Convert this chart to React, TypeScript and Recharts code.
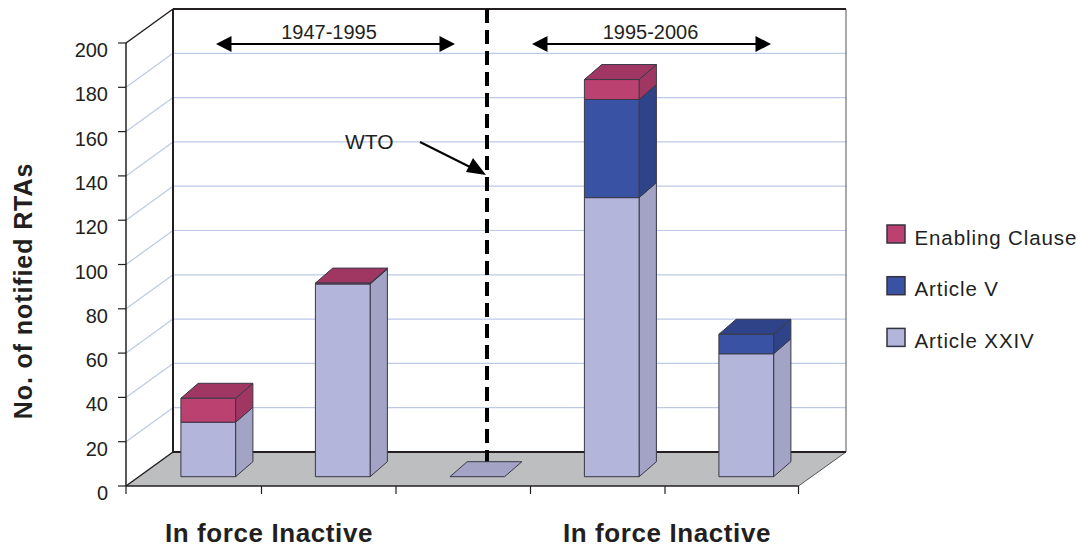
import { BarChart, Bar, XAxis, YAxis, Customized } from 'recharts';

const categories = ['1947-1995 In force', '1947-1995 Inactive', 'WTO', '1995-2006 In force', '1995-2006 Inactive'];
const articleXXIV = [24.6, 87, 0, 126, 55.5];
const articleV = [0, 0, 0, 44.3, 8.8];
const enablingClause = [10.8, 0.4, 0, 9, 0];
const yTicks = [0, 20, 40, 60, 80, 100, 120, 140, 160, 180, 200];
const seriesNames = ['Enabling Clause', 'Article V', 'Article XXIV'];
const groupLabels = ['In force Inactive', 'In force Inactive'];
const periodLabels = ['1947-1995', '1995-2006'];

const data = categories.map((name, i) => ({
  name,
  xxiv: articleXXIV[i],
  v: articleV[i],
  enabling: enablingClause[i],
}));

const colors: any = {
  xxiv: { front: '#b3b5da', side: '#a2a3c5' },
  v: { front: '#3952a3', side: '#2f4388' },
  enabling: { front: '#bb4170', side: '#a03763' },
};
const legendColors = [colors.enabling.front, colors.v.front, colors.xxiv.front];

const INK = '#231f20';
const LEFT = 126;
const RIGHT = 798.5;
const TOP = 43;
const BOTTOM = 486;
const WALL_DX = 47;
const WALL_DY = -34;
// bars stand part way into the floor
const BAR_DX = 14.9;
const BAR_DY = -9.3;
const DEPTH_X = 17.3;
const DEPTH_Y = -15;
const FONT = '"Liberation Sans", Arial, sans-serif';

const yPos = (v: number) => BOTTOM - (v / 200) * (BOTTOM - TOP);

function Box3D(props: any) {
  const { x, y, width, height, dataKey, payload } = props;
  const c = colors[dataKey];
  const order = ['enabling', 'v', 'xxiv'];
  const topKey = order.find((k) => payload[k] > 0) || 'xxiv';
  const isTop = topKey === dataKey;
  if (!isTop && !(height > 0)) return null;
  const l = x + BAR_DX;
  const r = l + width;
  const t = y + BAR_DY;
  const b = t + height;
  const line = { stroke: '#3a3846', strokeWidth: 1, strokeLinejoin: 'round' as const };
  return (
    <g>
      {height > 0 && (
        <polygon
          points={`${r},${t} ${r + DEPTH_X},${t + DEPTH_Y} ${r + DEPTH_X},${b + DEPTH_Y} ${r},${b}`}
          fill={c.side}
          {...line}
        />
      )}
      {isTop && (
        <polygon
          points={`${l},${t} ${l + DEPTH_X},${t + DEPTH_Y} ${r + DEPTH_X},${t + DEPTH_Y} ${r},${t}`}
          fill={c.side}
          {...line}
        />
      )}
      {height > 0 && <rect x={l} y={t} width={width} height={height} fill={c.front} {...line} />}
    </g>
  );
}

function YTick({ x, y, payload }: any) {
  return (
    <text x={x} y={y + 14} textAnchor="end" fontFamily={FONT} fontSize={20} fill={INK}>
      {payload.value}
    </text>
  );
}

function Walls() {
  const bx = LEFT + WALL_DX;
  const ex = RIGHT + WALL_DX + 0.5;
  const band = (RIGHT - LEFT) / categories.length;
  return (
    <g>
      <polygon
        points={`${LEFT},${BOTTOM} ${RIGHT},${BOTTOM} ${ex},${BOTTOM + WALL_DY} ${bx},${BOTTOM + WALL_DY}`}
        fill="#bcbec0"
      />
      {yTicks.slice(1).map((v) => (
        <g key={v} stroke="#bdc9e6" strokeWidth={1.2}>
          {v < 200 && <line x1={LEFT} y1={yPos(v)} x2={bx} y2={yPos(v) + WALL_DY} />}
          {v < 200 && <line x1={bx} y1={yPos(v) + WALL_DY} x2={ex} y2={yPos(v) + WALL_DY} />}
        </g>
      ))}
      <line x1={ex} y1={yPos(200) + WALL_DY} x2={ex} y2={BOTTOM + WALL_DY} stroke="#55555a" strokeWidth={1} />
      <line x1={ex} y1={BOTTOM + WALL_DY} x2={RIGHT} y2={BOTTOM} stroke="#55555a" strokeWidth={1} />
      <line x1={bx} y1={yPos(200) + WALL_DY} x2={ex} y2={yPos(200) + WALL_DY} stroke={INK} strokeWidth={2} />
      <line x1={bx} y1={BOTTOM + WALL_DY} x2={ex} y2={BOTTOM + WALL_DY} stroke={INK} strokeWidth={2} />
      <line x1={bx} y1={yPos(200) + WALL_DY} x2={bx} y2={BOTTOM + WALL_DY} stroke={INK} strokeWidth={2} />
      <line x1={LEFT} y1={yPos(200)} x2={bx} y2={yPos(200) + WALL_DY} stroke={INK} strokeWidth={1.5} />
      <line x1={LEFT} y1={BOTTOM} x2={bx} y2={BOTTOM + WALL_DY} stroke={INK} strokeWidth={1.5} />
      {categories.concat('').map((_, i) => (
        <line
          key={i}
          x1={LEFT + band * i + (i > 0 && i < 5 ? 1 : 0)}
          y1={BOTTOM}
          x2={LEFT + band * i + (i > 0 && i < 5 ? 1 : 0)}
          y2={BOTTOM + 8}
          stroke={INK}
          strokeWidth={1.2}
        />
      ))}
    </g>
  );
}

function Arrow({ x1, x2 }: { x1: number; x2: number }) {
  const y = 44;
  return (
    <g fill="#000" stroke="none">
      <rect x={x1 + 10} y={y - 1} width={x2 - x1 - 20} height={2} />
      <polygon points={`${x1},${y} ${x1 + 15.5},${y - 8} ${x1 + 15.5},${y + 8}`} />
      <polygon points={`${x2},${y} ${x2 - 15.5},${y - 8} ${x2 - 15.5},${y + 8}`} />
    </g>
  );
}

function Annotations() {
  return (
    <g fontFamily={FONT} fill={INK}>
      <line x1={487} y1={9} x2={487} y2={463} stroke="#000" strokeWidth={4} strokeDasharray="14 7" />
      <Arrow x1={216} x2={455} />
      <Arrow x1={532} x2={771} />
      <text x={329} y={39} textAnchor="middle" fontSize={20}>{periodLabels[0]}</text>
      <text x={650.5} y={39} textAnchor="middle" fontSize={20}>{periodLabels[1]}</text>
      <text x={345} y={149} fontSize={21}>WTO</text>
      <line x1={420} y1={142} x2={472} y2={168} stroke="#000" strokeWidth={2} />
      <polygon points="486,175 466,172 473,158" fill="#000" />
      <text x={269} y={542} textAnchor="middle" fontSize={26} fontWeight="bold" letterSpacing={0.6}>{groupLabels[0]}</text>
      <text x={667} y={542} textAnchor="middle" fontSize={26} fontWeight="bold" letterSpacing={0.6}>{groupLabels[1]}</text>
      <text
        transform="translate(32,291) rotate(-90)"
        textAnchor="middle"
        fontSize={25}
        fontWeight="bold"
        letterSpacing={0.9}
      >
        No. of notified RTAs
      </text>
      {seriesNames.map((name, i) => (
        <g key={name}>
          <rect x={887} y={225 + i * 51.7} width={18} height={18} fill={legendColors[i]} stroke="#34323f" strokeWidth={1.5} />
          <text x={914.5} y={245 + i * 51.3} fontSize={20.5} letterSpacing={0.9}>{name}</text>
        </g>
      ))}
    </g>
  );
}

export default function App() {
  return (
    <div style={{ position: 'absolute', left: 0, top: 0 }}>
      <BarChart
        width={1082}
        height={547}
        data={data}
        margin={{ top: TOP, right: 1082 - RIGHT, bottom: 0, left: LEFT - 60 }}
        barSize={54.7}
      >
        <Customized component={<Walls />} />
        <XAxis dataKey="name" tick={false} tickLine={false} axisLine={{ stroke: INK, strokeWidth: 1.5 }} height={547 - BOTTOM} />
        <YAxis
          width={60}
          domain={[0, 200]}
          ticks={yTicks}
          interval={0}
          tick={<YTick />}
          tickSize={8}
          tickMargin={10}
          tickLine={{ stroke: INK, strokeWidth: 1.2 }}
          axisLine={{ stroke: INK, strokeWidth: 1.5 }}
        />
        <Bar dataKey="xxiv" stackId="a" shape={<Box3D dataKey="xxiv" />} isAnimationActive={false} />
        <Bar dataKey="v" stackId="a" shape={<Box3D dataKey="v" />} isAnimationActive={false} />
        <Bar dataKey="enabling" stackId="a" shape={<Box3D dataKey="enabling" />} isAnimationActive={false} />
        <Customized component={<Annotations />} />
      </BarChart>
    </div>
  );
}
